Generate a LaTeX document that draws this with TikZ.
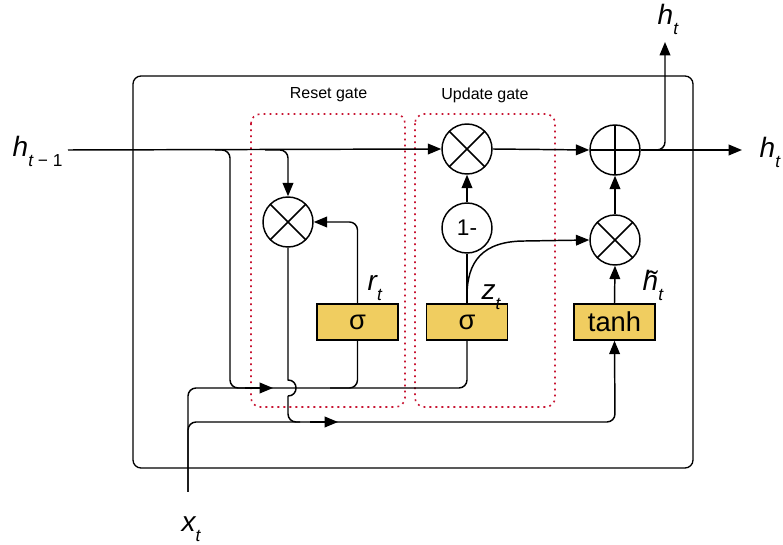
\documentclass[tikz,border=0pt]{standalone}
\usepackage{fontspec}
\setmainfont{Liberation Sans}
\usetikzlibrary{arrows.meta,calc}
\definecolor{gold}{RGB}{240,205,96}
\definecolor{gatered}{RGB}{200,20,50}
\begin{document}
\begin{tikzpicture}[x=0.75pt,y=-0.75pt,
  line width=1.1pt,
  arr/.style={-{Triangle[length=10pt,width=8pt]}},
  op/.style={circle,draw,minimum size=37.5pt,inner sep=0pt},
  mul/.style={op,path picture={\draw (path picture bounding box.north west) -- (path picture bounding box.south east)
      (path picture bounding box.north east) -- (path picture bounding box.south west);}},
  add/.style={op,path picture={\draw (path picture bounding box.north) -- (path picture bounding box.south)
      (path picture bounding box.east) -- (path picture bounding box.west);}},
  onebox/.style={op,font=\fontsize{17}{19}\selectfont},
  gatebox/.style={draw,fill=gold,minimum width=60.75pt,minimum height=27pt,inner sep=0pt,font=\fontsize{20.5}{22}\selectfont},
  gatearea/.style={draw=gatered,line width=1.2pt,dash pattern=on 1.4pt off 3.1pt,rounded corners=7pt},
  gatelbl/.style={font=\fontsize{12}{14}\selectfont},
  var/.style={anchor=base west,inner sep=0pt,font=\fontsize{21}{23}\selectfont\itshape},
  sub/.style={},
  rc/.style={rounded corners=6pt}]
\newcommand{\subt}[1]{\raisebox{-7pt}{\fontsize{13}{14}\selectfont #1}}
\fill[white] (0,0) rectangle (783,545);
\useasboundingbox (0,0) rectangle (783,545);

% outer cell
\draw[rounded corners=6pt,line width=1pt] (133,76) rectangle (693,468);

% gate areas
\draw[gatearea] (251,114) rectangle (405,407);
\draw[gatearea] (415,114) rectangle (555,407);
\node[gatelbl] (lreset) at (328.5,95) {Reset gate};
\node[gatelbl] (lupdate) at (485,95) {Update gate};

% operators
\node[mul] (mulR) at (288,222) {};
\node[mul] (mulU) at (467,149) {};
\node[onebox] (one) at (467,228) {1-};
\node[add] (plus) at (615,150) {};
\node[mul] (mulT) at (615,240) {};
\node[gatebox] (sR) at (357.5,322) {σ};
\node[gatebox] (sU) at (467,322) {σ};
\node[gatebox] (tanh) at (614.5,322) {tanh};

% coordinates
\coordinate (hin) at (68,150);
\coordinate (hA) at (215,150);
\coordinate (hB) at (265,150);
\coordinate (xin) at (188,492);
\coordinate (bus0) at (230,388);
\coordinate (bus0e) at (260,388);
\coordinate (bus1) at (467,388);
\coordinate (busR) at (330,388);
\coordinate (bus2) at (615,422);
\coordinate (xbr) at (300,422);
\coordinate (hop1) at (288,380);
\coordinate (hop2) at (288,396);
\coordinate (mA1) at (245,388);
\coordinate (mA2) at (273,388);
\coordinate (mB1) at (310,422);
\coordinate (mB2) at (338,422);
\coordinate (zc) at (467,296);
\coordinate (zk) at (525,241);
\coordinate (out) at (742,150);
\coordinate (outup) at (665,42);

% connectors
\draw[arr] (hin) -- (mulU.west);
\draw[arr,rc] (hB) -| (mulR.north);
\draw[rc] (hA) -| (bus0) -- (bus0e);
\draw[rc] (xin) |- (bus1) -- (sU.south);
\draw[rc] (busR) -| (sR.south);
\draw[arr] (mA1) -- (mA2);
\draw[arr,rc] (sR.north) |- (mulR.east);
\draw (mulR.south) -- (hop1) .. controls +(10.7,0) and +(10.7,0) .. (hop2);
\draw[arr,rc] (hop2) |- (bus2) -- (tanh.south);
\draw[rc] (xin) |- (xbr);
\draw[arr] (mB1) -- (mB2);
\draw (sU.north) -- (one.south);
\draw[arr] (zc) .. controls (467,262) and (482,241) .. (zk) -- (mulT.west);
\draw[arr] (one.north) -- (mulU.south);
\draw[arr] (mulU.east) -- (plus.west);
\draw[arr] (mulT.north) -- (plus.south);
\draw[arr] (tanh.north) -- (mulT.south);
\draw[arr] (plus.east) -- (out);
\draw[arr,rc] (plus.east) -| (outup);

% labels
\node[var] (lht1) at (12,157) {h\subt{\textit{t} \upshape − 1}};
\node[var] (lhtu) at (657,25) {h\subt{t}};
\node[var] (lhtr) at (759,158) {h\subt{t}};
\node[var] (lxt) at (181,532) {x\subt{t}};
\node[var] (lrt) at (367,291) {r\subt{t}};
\node[var] (lzt) at (481,300) {z\subt{t}};
\node[var] (lhtt) at (642,291) {\~{h}\subt{t}};
\end{tikzpicture}
\end{document}
